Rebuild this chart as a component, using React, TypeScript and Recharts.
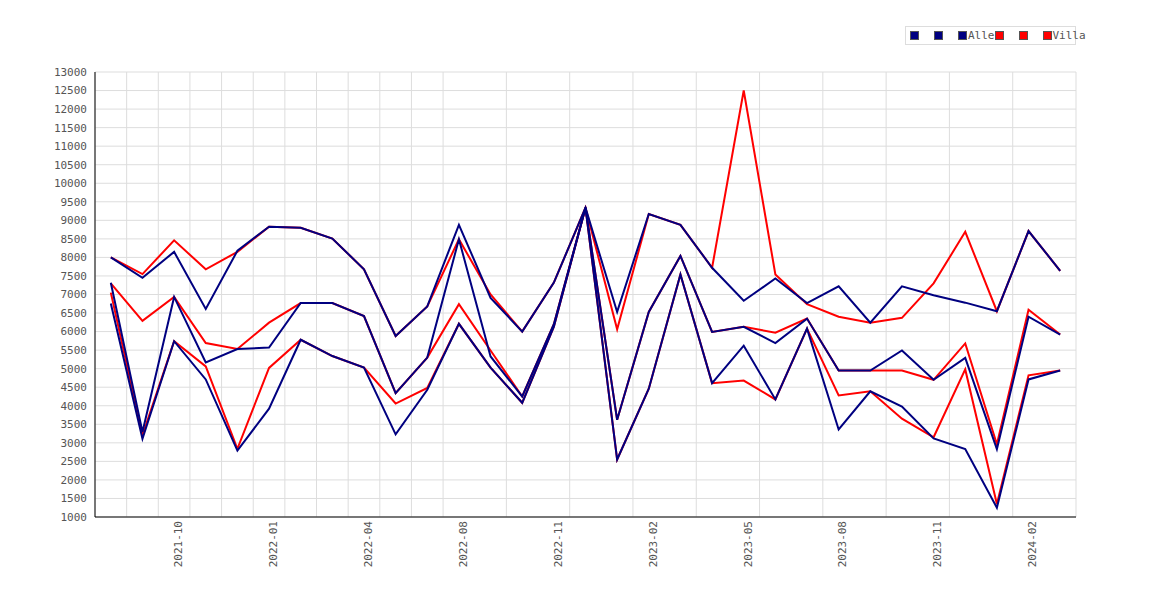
import React from "react";
import { CartesianGrid, Legend, Line, LineChart, XAxis, YAxis } from "recharts";

const months = [
  "2021-08", "2021-09", "2021-10", "2021-11", "2021-12", "2022-01", "2022-02", "2022-03",
  "2022-04", "2022-06", "2022-07", "2022-08", "2022-09", "2022-10", "2022-11", "2022-12",
  "2023-01", "2023-02", "2023-03", "2023-04", "2023-05", "2023-06", "2023-07", "2023-08",
  "2023-09", "2023-10", "2023-11", "2023-12", "2024-01", "2024-02", "2024-03",
];

const alleMax = [8000, 7450, 8150, 6610, 8180, 8830, 8800, 8510, 7680, 5880, 6680, 8880, 6910, 6000, 7320, 9340, 6530, 9170, 8880, 7720, 6830, 7430, 6770, 7220, 6240, 7220, 6980, 6780, 6550, 8710, 7640];
const alleMid = [7315, 3290, 6935, 5170, 5530, 5570, 6770, 6770, 6420, 4340, 5300, 8490, 5330, 4250, 6200, 9340, 3620, 6530, 8040, 5990, 6130, 5690, 6350, 4950, 4950, 5490, 4700, 5290, 2830, 6400, 5920];
const alleMin = [6760, 3110, 5740, 4710, 2790, 3920, 5780, 5340, 5030, 3230, 4430, 6210, 5030, 4080, 6130, 9340, 2550, 4460, 7540, 4610, 5620, 4170, 6080, 3360, 4390, 3980, 3120, 2830, 1250, 4710, 4950];

const villaMax = [8000, 7550, 8460, 7680, 8150, 8830, 8800, 8510, 7680, 5880, 6680, 8490, 7000, 6000, 7320, 9340, 6060, 9170, 8880, 7720, 12500, 7540, 6740, 6400, 6240, 6370, 7300, 8690, 6550, 8710, 7640];
const villaMid = [7300, 6290, 6935, 5690, 5530, 6240, 6770, 6770, 6420, 4340, 5300, 6740, 5490, 4250, 6200, 9340, 3620, 6530, 8040, 5990, 6130, 5970, 6350, 4950, 4950, 4950, 4700, 5680, 2960, 6590, 5920];
const villaMin = [7050, 3200, 5740, 5060, 2840, 5020, 5780, 5340, 5030, 4060, 4480, 6210, 5030, 4080, 6130, 9340, 2550, 4460, 7540, 4610, 4680, 4170, 6080, 4280, 4390, 3650, 3150, 4980, 1350, 4820, 4950];

const xTicks = [2, 5, 8, 11, 14, 17, 20, 23, 26, 29];
const gridTicks = Array.from({ length: 32 }, (_, k) => k - 0.5);
const yTicks = Array.from({ length: 25 }, (_, k) => 1000 + k * 500);

const data = months.map((m, i) => ({
  i,
  m,
  aMax: alleMax[i],
  aMid: alleMid[i],
  aMin: alleMin[i],
  vMax: villaMax[i],
  vMid: villaMid[i],
  vMin: villaMin[i],
}));

const NAVY = "#000080";
const RED = "#ff0000";
const font = "DejaVu Sans Mono, monospace";

function LegendBox() {
  const item = (c: string, label: string, key: number) => (
    <span key={key} style={{ display: "inline-flex", alignItems: "center", marginRight: label ? 0 : 15 }}>
      <span style={{ width: 7, height: 7, background: c, border: "1px solid #555", display: "inline-block" }} />
      {label && <span style={{ marginLeft: 1 }}>{label}</span>}
    </span>
  );
  return (
    <div style={{
      position: "absolute", left: 905, top: 26, width: 171, height: 19, boxSizing: "border-box",
      border: "1px solid #ddd", fontFamily: font, fontSize: 11, color: "#555",
      display: "flex", alignItems: "center", paddingLeft: 4, background: "#fff",
    }}>
      {item(NAVY, "", 0)}{item(NAVY, "", 1)}{item(NAVY, "Alle", 2)}
      <span style={{ width: 8 }} />
      {item(RED, "", 3)}{item(RED, "", 4)}{item(RED, "Villa", 5)}
    </div>
  );
}

export default function App() {
  const tick = { fontFamily: font, fontSize: 11, fill: "#555" };
  return (
    <div style={{ position: "absolute", left: 0, top: 0, width: 1170, height: 600, background: "#fff" }}>
      <LineChart width={1170} height={600} data={data} margin={{ top: 72, right: 94, bottom: 0, left: 0 }}>
        <XAxis xAxisId="grid" dataKey="i" type="number" domain={[-0.5, 30.5]} ticks={gridTicks} hide />
        <CartesianGrid xAxisId="grid" stroke="#dddddd" strokeWidth={1} />
        <XAxis
          dataKey="i"
          type="number"
          domain={[-0.5, 30.5]}
          ticks={xTicks}
          interval={0}
          tickFormatter={(v: number) => months[v]}
          height={83}
          stroke="#000"
          tickLine={false}
          angle={-90}
          textAnchor="end"
          tick={{ ...tick, dy: -4 }}
        />
        <YAxis
          domain={[1000, 13000]}
          ticks={yTicks}
          interval={0}
          width={95}
          stroke="#000"
          tickLine={false}
          tick={tick}
        />
        <Legend content={() => null} />
        <Line dataKey="vMax" stroke={RED} strokeWidth={2} dot={false} isAnimationActive={false} />
        <Line dataKey="vMid" stroke={RED} strokeWidth={2} dot={false} isAnimationActive={false} />
        <Line dataKey="vMin" stroke={RED} strokeWidth={2} dot={false} isAnimationActive={false} />
        <Line dataKey="aMax" stroke={NAVY} strokeWidth={2} dot={false} isAnimationActive={false} />
        <Line dataKey="aMid" stroke={NAVY} strokeWidth={2} dot={false} isAnimationActive={false} />
        <Line dataKey="aMin" stroke={NAVY} strokeWidth={2} dot={false} isAnimationActive={false} />
      </LineChart>
      <LegendBox />
    </div>
  );
}
